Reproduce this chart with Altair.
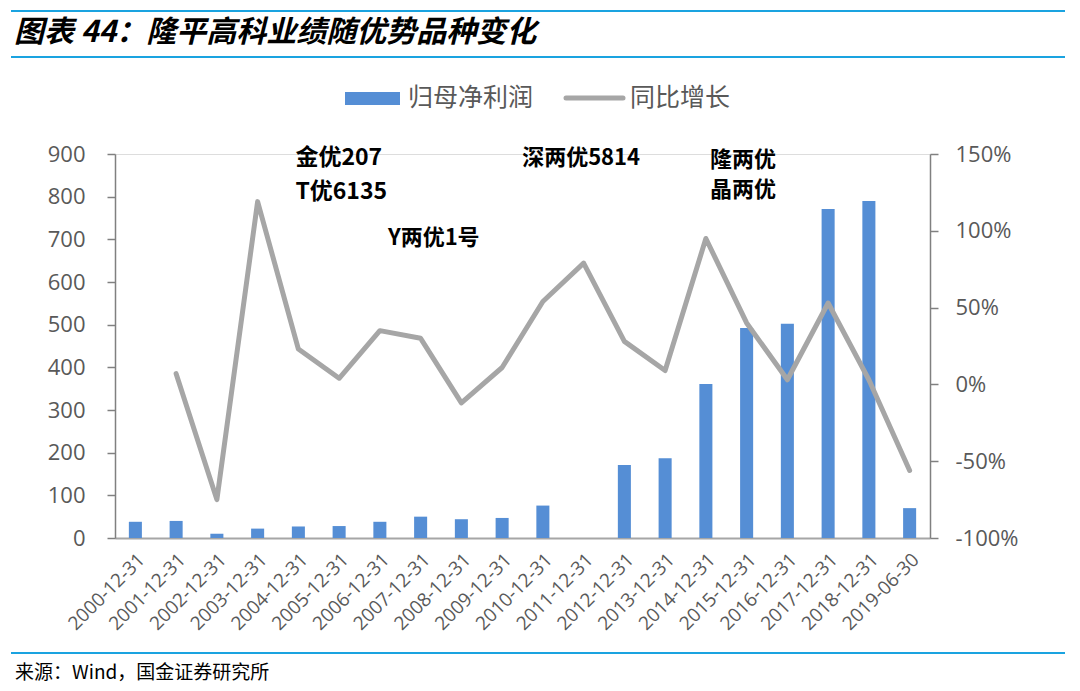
import altair as alt
import pandas as pd

categories = ["2000-12-31", "2001-12-31", "2002-12-31", "2003-12-31", "2004-12-31",
              "2005-12-31", "2006-12-31", "2007-12-31", "2008-12-31", "2009-12-31",
              "2010-12-31", "2011-12-31", "2012-12-31", "2013-12-31", "2014-12-31",
              "2015-12-31", "2016-12-31", "2017-12-31", "2018-12-31", "2019-06-30"]
# 归母净利润 (百万元)
profit = [38, 40, 10, 22, 27, 28, 38, 50, 44, 47, 76, None, 171, 187, 361, 492, 502, 771, 790, 70]
# 同比增长 (%)
growth = [None, 7, -75, 119, 23, 4, 35, 30, -12, 11, 54, 79, 28, 9, 95, 40, 3, 53, 3, -56]

ann_text = ["金优207", "T优6135", "Y两优1号", "深两优5814", "隆两优", "晶两优"]
ann_cat = ["2004-12-31", "2004-12-31", "2006-12-31", "2009-12-31", "2014-12-31", "2014-12-31"]
ann_val = [890, 810, 702, 890, 887, 815]
ann_dx = [-3, -3, 8, 20, 4, 4]
ann_size = [23, 23, 22, 22, 22, 22]

FONT = "Noto Sans CJK SC"
GREY_TXT = "#595959"
BLUE = "#558ed5"
LINE_GREY = "#a6a6a6"

df = pd.DataFrame({"date": categories, "profit": profit, "growth": growth})

x_enc = alt.X("date:N", sort=categories, title=None,
              scale=alt.Scale(paddingInner=0.68, paddingOuter=0.34),
              axis=alt.Axis(labelAngle=-45, labelFontSize=19, labelColor=GREY_TXT,
                            labelFont="Open Sans", ticks=False, domainColor="#a6a6a6",
                            domainWidth=2, labelPadding=12))

bars = alt.Chart(df).transform_filter("datum.profit != null").mark_bar(color=BLUE).encode(
    x=x_enc,
    y=alt.Y("profit:Q", title=None,
            scale=alt.Scale(domain=[0, 900]),
            axis=alt.Axis(values=list(range(0, 901, 100)), grid=False, labelFontSize=22,
                          labelColor=GREY_TXT, labelFont="Open Sans", domainColor="#808080",
                          domainWidth=1.5, tickColor="#808080", tickSize=8, tickWidth=1.5,
                          labelPadding=22, domain=True))
)

line = alt.Chart(df).transform_filter("datum.growth != null").mark_line(
    color=LINE_GREY, strokeWidth=5, strokeCap="round", strokeJoin="round").encode(
    x=alt.X("date:N", sort=categories),
    y=alt.Y("growth:Q", title=None, scale=alt.Scale(domain=[-100, 150]),
            axis=alt.Axis(orient="right", values=[-100, -50, 0, 50, 100, 150], grid=False,
                          labelExpr="datum.value + '%'", labelFontSize=22, labelColor=GREY_TXT,
                          labelFont="Open Sans", domainColor="#808080", domainWidth=1.5,
                          tickColor="#808080", tickSize=8, tickWidth=1.5, labelPadding=17))
)

text_layers = []
for t, c, v, d, fs in zip(ann_text, ann_cat, ann_val, ann_dx, ann_size):
    sub = pd.DataFrame({"date": [c], "label": [t], "v": [v]})
    text_layers.append(
        alt.Chart(sub).mark_text(align="left", baseline="middle", font=FONT,
                                 fontWeight="bold", fontSize=fs, color="#000000", dx=d).encode(
            x=alt.X("date:N", sort=categories),
            y=alt.Y("v:Q", scale=alt.Scale(domain=[0, 900]), axis=None),
            text="label:N")
    )

dummy = pd.DataFrame({"a": [0]})
deco = alt.Chart(dummy)
title_txt = deco.mark_text(align="left", baseline="middle", font=FONT, fontSize=30,
                           fontWeight="bold", fontStyle="italic", color="#000000").encode(
    x=alt.value(-101), y=alt.value(-121), text=alt.value("图表 44：隆平高科业绩随优势品种变化"))
rule1 = deco.mark_rule(color="#1aa3e0", strokeWidth=2).encode(
    x=alt.value(-104), x2=alt.value(950), y=alt.value(-143))
rule2 = deco.mark_rule(color="#1aa3e0", strokeWidth=2).encode(
    x=alt.value(-104), x2=alt.value(950), y=alt.value(-97))
rule3 = deco.mark_rule(color="#1aa3e0", strokeWidth=2).encode(
    x=alt.value(-104), x2=alt.value(950), y=alt.value(499))
foot = deco.mark_text(align="left", baseline="middle", font=FONT, fontSize=19,
                      color="#000000").encode(
    x=alt.value(-100), y=alt.value(519), text=alt.value("来源：Wind，国金证券研究所"))

leg_rect = deco.mark_rect(color=BLUE).encode(
    x=alt.value(230), x2=alt.value(285), y=alt.value(-62), y2=alt.value(-49))
leg_t1 = deco.mark_text(align="left", baseline="middle", font=FONT, fontSize=25,
                        color=GREY_TXT).encode(
    x=alt.value(293), y=alt.value(-56), text=alt.value("归母净利润"))
leg_line = deco.mark_rule(color=LINE_GREY, strokeWidth=5, strokeCap="round").encode(
    x=alt.value(451), x2=alt.value(508), y=alt.value(-56))
leg_t2 = deco.mark_text(align="left", baseline="middle", font=FONT, fontSize=25,
                        color=GREY_TXT).encode(
    x=alt.value(515), y=alt.value(-56), text=alt.value("同比增长"))

chart = alt.layer(bars, line, *text_layers, title_txt, rule1, rule2, rule3, foot,
                  leg_rect, leg_t1, leg_line, leg_t2).resolve_scale(
    y="independent").properties(
    width=815, height=384,
    autosize=alt.AutoSizeParams(type="none"),
    padding={"left": 107, "top": 146, "right": 142, "bottom": 145},
).configure_view(stroke=None).configure(background="white")

chart.save("out.html", embed_options={"renderer": "svg", "actions": False})
